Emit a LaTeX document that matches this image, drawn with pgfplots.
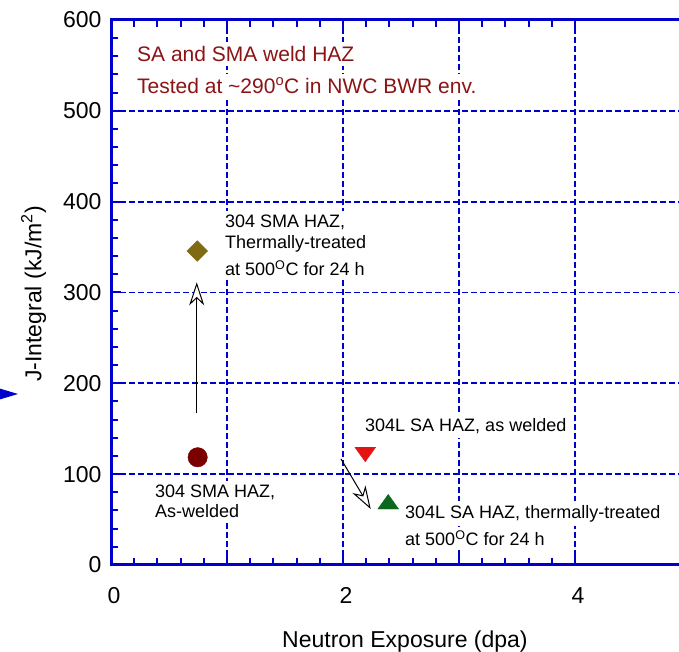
\documentclass[border=0pt]{standalone}
\usepackage{fontspec}
\setmainfont{Liberation Sans}
\usepackage{pgfplots}
\pgfplotsset{compat=1.18}
\usetikzlibrary{arrows.meta}
\definecolor{axblue}{RGB}{0,0,205}
\definecolor{titlered}{RGB}{140,20,20}
\definecolor{circ}{RGB}{122,0,0}
\definecolor{olive2}{RGB}{128,106,20}
\definecolor{tred}{RGB}{228,20,20}
\definecolor{tgreen}{RGB}{12,104,30}
\newcommand{\fs}[1]{\fontsize{#1}{#1}\selectfont}
\begin{document}
\begin{tikzpicture}
\begin{axis}[
  scale only axis, width=568pt, height=545pt,
  xmin=0, xmax=4.8966, ymin=0, ymax=600,
  clip=false,
  axis line style={draw=none},
  xtick={0,1,2,3,4}, xticklabels={0,,2,,4},
  ytick={0,100,...,600},
  minor x tick num=4, minor y tick num=4,
  xtick pos=both, ytick pos=left,
  tick align=inside,
  major tick length=10pt, minor tick length=7pt,
  every tick/.style={axblue, line width=2pt},
  grid=major,
  major grid style={axblue, line width=1.8pt, dash pattern=on 6pt off 3pt},
  /pgf/number format/assume math mode=true,
  tick label style={font=\fs{23}, inner sep=0pt},
  xticklabel style={anchor=north, yshift=-22pt, xshift=3pt},
  yticklabel style={anchor=east, xshift=-9.3pt},
]
\coordinate (O) at ([shift={(-111pt,20pt)}]rel axis cs:0,1);
\coordinate (BR) at ([shift={(0pt,-87pt)}]rel axis cs:1,0);
\begin{scope}[every node/.style={anchor=base west, inner xsep=2pt, inner ysep=4pt, fill=white}]
\node[text=titlered, font=\fs{21}] at ([shift={(135pt,-61.7pt)}]O) {SA and SMA weld HAZ};
\node[text=titlered, font=\fs{21}] at ([shift={(135pt,-93.3pt)}]O) {Tested at \textasciitilde290\textsuperscript{o}C in NWC BWR env.};
\node[font=\fs{18}] at ([shift={(223pt,-227.7pt)}]O) {304 SMA HAZ,};
\node[font=\fs{18}] at ([shift={(223pt,-249pt)}]O) {Thermally-treated};
\node[font=\fs{18}] at ([shift={(223pt,-276pt)}]O) {at 500\textsuperscript{O}C for 24 h};
\node[font=\fs{18}] at ([shift={(153pt,-497.3pt)}]O) {304 SMA HAZ,};
\node[font=\fs{18}] at ([shift={(153pt,-517.7pt)}]O) {As-welded};
\node[font=\fs{18}] at ([shift={(363pt,-431.7pt)}]O) {304L SA HAZ, as welded};
\node[font=\fs{18}] at ([shift={(403pt,-518.3pt)}]O) {304L SA HAZ, thermally-treated};
\node[font=\fs{18}] at ([shift={(403pt,-545.7pt)}]O) {at 500\textsuperscript{O}C for 24 h};
\end{scope}
\addplot[only marks, mark=*, mark size=9.7pt, mark options={draw=circ, fill=circ}] coordinates {(0.747,118.6)};
\addplot[only marks, mark=square*, mark size=7.3pt, mark options={rotate=45, draw=olive2, fill=olive2}] coordinates {(0.744,345.7)};
\addplot[only marks, mark=triangle*, mark size=12pt, mark options={rotate=180, yscale=0.81, draw=tred, fill=tred}] coordinates {(2.192,124.3)};
\addplot[only marks, mark=triangle*, mark size=12pt, mark options={yscale=0.81, draw=tgreen, fill=tgreen}] coordinates {(2.39,67.0)};
\draw[black, line width=1pt, -{Stealth[fill=white, length=23pt, width=15pt, inset=7pt]}] (axis cs:0.739,167.0) -- (axis cs:0.739,311.2);
\draw[black, line width=1pt, -{Stealth[fill=white, length=23pt, width=15pt, inset=7pt]}] (axis cs:1.983,116.7) -- (axis cs:2.239,61.6);
\draw[axblue, line width=3pt, line join=miter] (rel axis cs:1,0) -- (rel axis cs:0,0) -- (rel axis cs:0,1) -- (rel axis cs:1,1);
\end{axis}
\pgfresetboundingbox
\path[use as bounding box] (O) rectangle (BR);
\fill[axblue] ([shift={(-2pt,-388pt)}]O) -- ([shift={(-2pt,-400pt)}]O) -- ([shift={(18pt,-394pt)}]O) -- cycle;
\begin{scope}[every node/.style={anchor=base west, inner sep=0pt}]
\node[font=\fs{23}] at ([shift={(282pt,-647pt)}]O) {Neutron Exposure (dpa)};
\node[font=\fs{23}, rotate=90] at ([shift={(41.5pt,-382pt)}]O) {J-Integral (kJ/m\textsuperscript{2})};
\end{scope}
\end{tikzpicture}
\end{document}
